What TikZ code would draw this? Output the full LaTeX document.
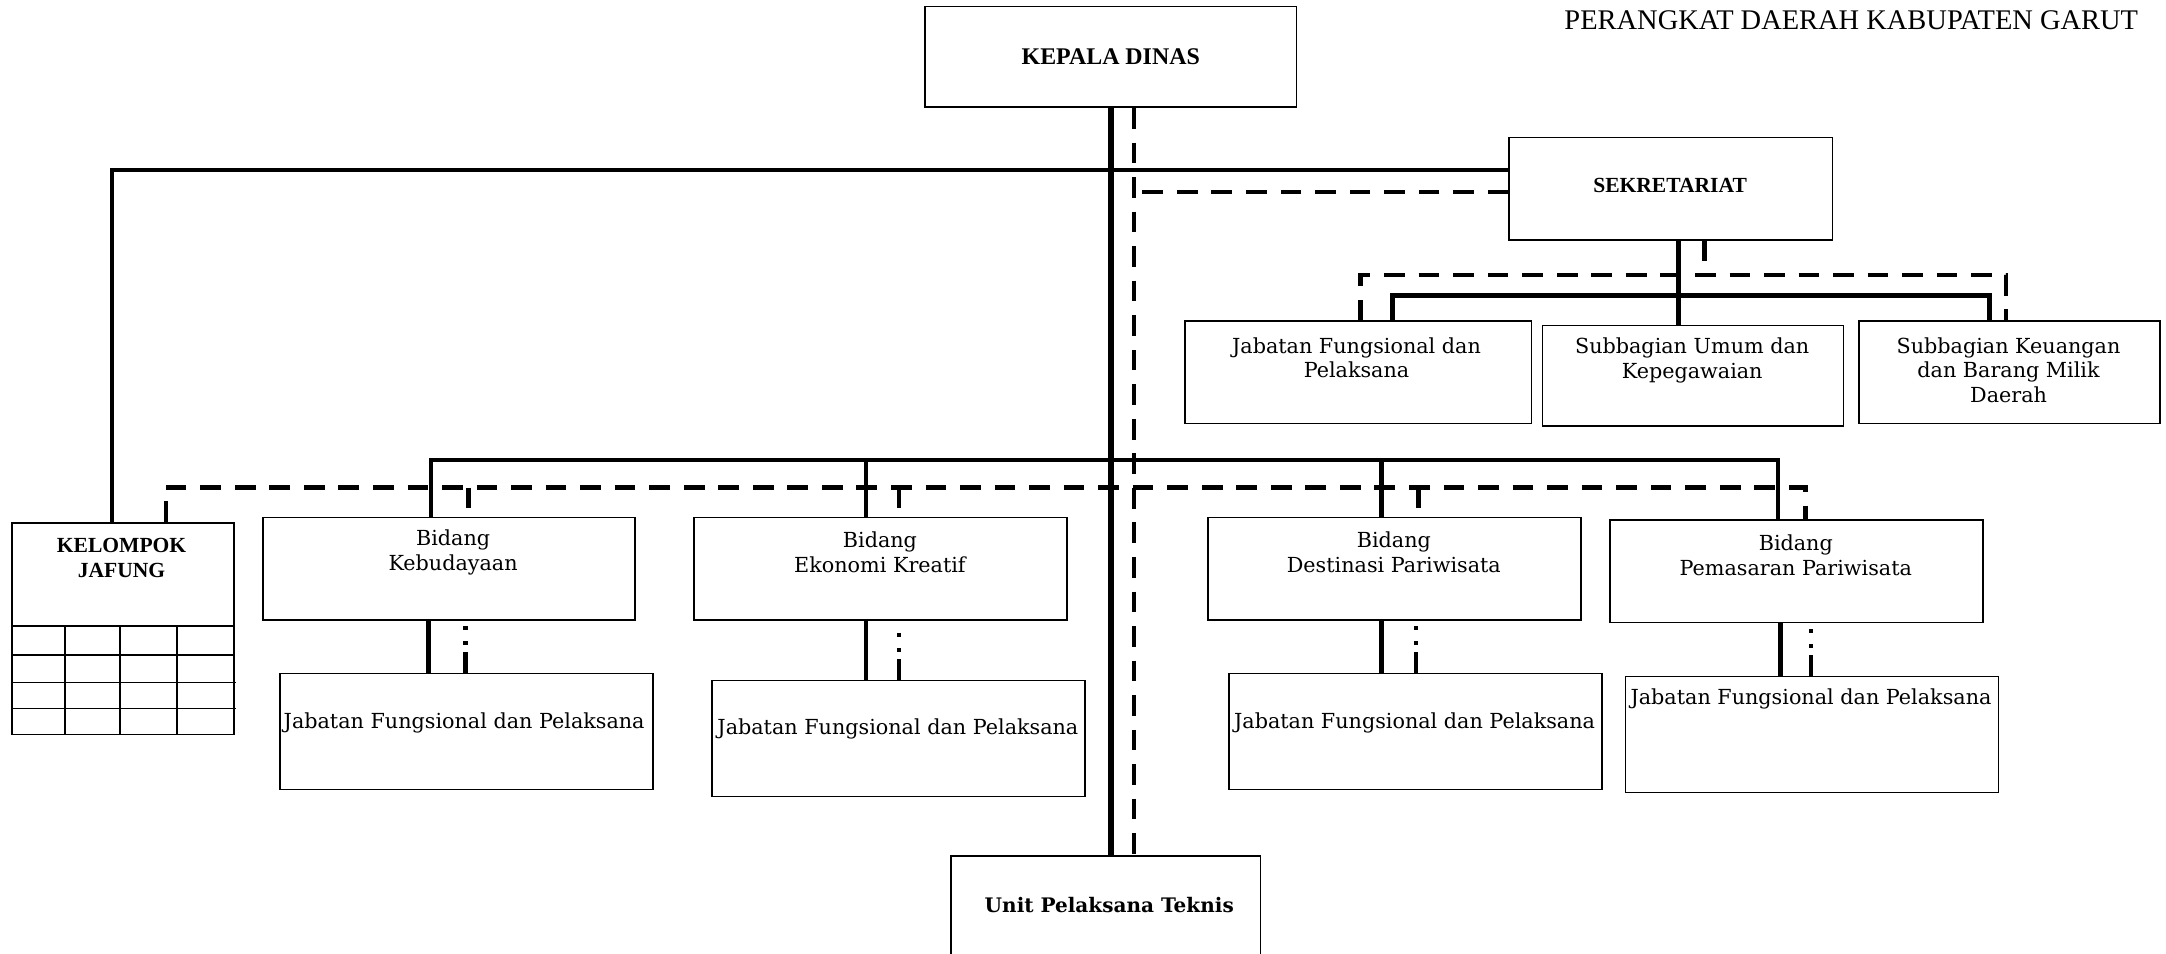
\documentclass[tikz,border=0pt]{standalone}
\usepackage{fontspec}
\setmainfont{DejaVu Serif}
\newfontfamily\timesf{Liberation Serif}
\usetikzlibrary{calc}
\begin{document}
\begin{tikzpicture}[x=1pt,y=-1pt,
  orgbox/.style={draw,line width=1.2pt,inner sep=0pt,anchor=north west},
  lbl/.style={align=center,inner sep=0pt,font=\fontsize{15}{18}\selectfont},
  caps/.style={align=center,inner sep=0pt,font=\timesf\bfseries\fontsize{15.6}{18}\selectfont},
  link/.style={line width=3.4pt},
  trunk/.style={line width=4pt},
  dlink/.style={line width=3.2pt,dash pattern=on 15pt off 10pt},
  ddlink/.style={line width=3pt,dash pattern=on 15pt off 5pt on 3pt off 8pt on 3pt off 20pt},
  grid/.style={line width=1.2pt}]
\useasboundingbox (0,0) rectangle (1568,690);

% heading
\node[anchor=base east,inner sep=0pt,font=\timesf\fontsize{20.6}{24}\selectfont] (head) at (1548,21) {PERANGKAT DAERAH KABUPATEN GARUT};

% boxes
\node[orgbox,minimum width=269pt,minimum height=73pt] (kd) at (669,4) {};
\node[orgbox,minimum width=234pt,minimum height=74pt] (sek) at (1092,99) {};
\node[orgbox,minimum width=251pt,minimum height=74pt] (sjf) at (857,232) {};
\node[orgbox,minimum width=218pt,minimum height=73pt] (ssu) at (1116,235) {};
\node[orgbox,minimum width=218pt,minimum height=74pt] (ssk) at (1345,232) {};
\node[orgbox,minimum width=161pt,minimum height=153pt] (kj) at (8,378) {};
\node[orgbox,minimum width=269pt,minimum height=74pt] (bk) at (190,374) {};
\node[orgbox,minimum width=270pt,minimum height=74pt] (be) at (502,374) {};
\node[orgbox,minimum width=270pt,minimum height=74pt] (bd) at (874,374) {};
\node[orgbox,minimum width=270pt,minimum height=74pt] (bp) at (1165,376) {};
\node[orgbox,minimum width=270pt,minimum height=84pt] (jk) at (202,487) {};
\node[orgbox,minimum width=270pt,minimum height=84pt] (je) at (515,492) {};
\node[orgbox,minimum width=270pt,minimum height=84pt] (jd) at (889,487) {};
\node[orgbox,minimum width=270pt,minimum height=84pt] (jp) at (1176,489) {};
\node[orgbox,minimum width=224pt,minimum height=72pt] (upt) at (688,619) {};

% texts
\node[caps,font=\timesf\bfseries\fontsize{17.3}{20}\selectfont] (tkd) at (kd.center) {KEPALA DINAS};
\node[caps] (tsek) at (1209,134) {SEKRETARIAT};
\node[lbl] (tsjf) at (982,259) {Jabatan Fungsional dan\\Pelaksana};
\node[lbl] (tssu) at (1225,261) {Subbagian Umum dan\\Kepegawaian};
\node[lbl] (tssk) at (1454,268) {Subbagian Keuangan\\dan Barang Milik\\Daerah};
\node[caps] (tkj) at (88,404) {KELOMPOK\\JAFUNG};
\node[lbl] (tbk) at (328,400) {Bidang\\Kebudayaan};
\node[lbl] (tbe) at (637,400) {Bidang\\Ekonomi Kreatif};
\node[lbl] (tbd) at (1009,400) {Bidang\\Destinasi Pariwisata};
\node[lbl] (tbp) at (1300,402) {Bidang\\Pemasaran Pariwisata};
\node[lbl] (tjk) at (336,523) {Jabatan Fungsional dan Pelaksana};
\node[lbl] (tje) at (650,528) {Jabatan Fungsional dan Pelaksana};
\node[lbl] (tjd) at (1024,523) {Jabatan Fungsional dan Pelaksana};
\node[lbl] (tjp) at (1311,506) {Jabatan Fungsional dan Pelaksana};
\node[inner sep=0pt,font=\bfseries\fontsize{14.5}{17}\selectfont] (tupt) at (803,655) {Unit Pelaksana Teknis};

% table inside the functional group box
\draw[grid] (8,453) -- (169,453);
\draw[grid] (8,474) -- (170,474);
\draw[grid] (8,494) -- (171,494);
\draw[grid] (8,513) -- (171,513);
\foreach \cx in {47,87,128} \draw[grid] (\cx,453) -- (\cx,531);

% junction points of the buses
\coordinate (tl) at (81,123);
\coordinate (dt) at (821,139);
\coordinate (sx) at (1215,214);
\coordinate (sd) at (1234,199);
\coordinate (sb1) at (1008,214);
\coordinate (sb2) at (1440,214);
\coordinate (sd1) at (985,199);
\coordinate (sd2) at (1452,199);
\coordinate (hb) at (312,333);
\coordinate (hbe) at (1287,333);
\coordinate (hd) at (120,353);
\coordinate (hde) at (1307,353);

% command lines (solid)
\draw[trunk] (kd.south) -- (kd.south |- upt.north);
\draw[link] (sek.west |- tl) -- (tl) -- (tl |- kj.north);
\draw[link] (sx |- sek.south) -- (sx |- ssu.north);
\draw[link] (sb1 |- sjf.north) -- (sb1) -- (sb2) -- (sb2 |- ssk.north);
\draw[link] (hb |- bk.north) -- (hb) -- (hbe) -- (hbe |- bp.north);
\draw[link] (627,333) -- (627,374 |- be.north);
\draw[link] (1000,333) -- (1000,374 |- bd.north);
\draw[link] (310,448 |- bk.south) -- (310,487 |- jk.north);
\draw[link] (627,448 |- be.south) -- (627,492 |- je.north);
\draw[link] (1000,448 |- bd.south) -- (1000,487 |- jd.north);
\draw[link] (1289,450 |- bp.south) -- (1289,489 |- jp.north);

% coordination lines (dashed)
\draw[dlink] (821,77 |- kd.south) -- (821,619 |- upt.north);
\draw[dlink] (sek.west |- dt) -- (dt);
\draw[dlink] (sd |- sek.south) -- (sd);
\draw[dlink] (sd1 |- sjf.north) -- (sd1) -- (sd2) -- (sd2 |- ssk.north);
\draw[dlink] (hd |- kj.north) -- (hd) -- (hde) -- (hde |- bp.north);
\draw[dlink] (339,353) -- (339,374 |- bk.north);
\draw[dlink] (651,353) -- (651,374 |- be.north);
\draw[dlink] (1027,353) -- (1027,374 |- bd.north);

% functional lines (dash-dot)
\draw[ddlink] (337,487 |- jk.north) -- (337,448 |- bk.south);
\draw[ddlink] (651,492 |- je.north) -- (651,448 |- be.south);
\draw[ddlink] (1025,487 |- jd.north) -- (1025,448 |- bd.south);
\draw[ddlink] (1311,489 |- jp.north) -- (1311,450 |- bp.south);
\end{tikzpicture}
\end{document}
